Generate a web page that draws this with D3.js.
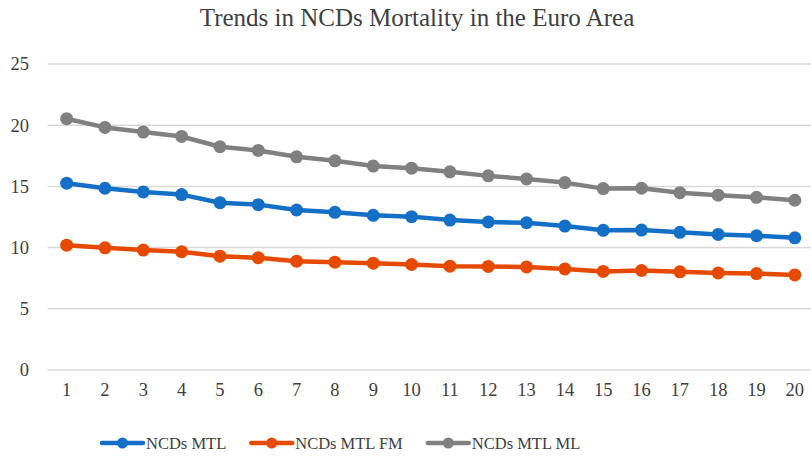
<!DOCTYPE html>
<html>
<head>
<meta charset="utf-8">
<script src="https://cdn.jsdelivr.net/npm/d3@7"></script>
<style>
  body { margin: 0; background: #fff; }
  svg { display: block; }
  svg text { font-family: "Liberation Serif", "DejaVu Serif", serif; }
</style>
</head>
<body>
<div id="chart"></div>
<script>
// Data
const years = d3.range(1, 21);
const ncdsMtl = [15.26, 14.85, 14.55, 14.33, 13.67, 13.51, 13.07, 12.88, 12.64, 12.53,
                 12.25, 12.09, 12.03, 11.76, 11.41, 11.43, 11.25, 11.08, 10.97, 10.80];
const ncdsMtlFm = [10.20, 9.98, 9.80, 9.66, 9.30, 9.17, 8.89, 8.81, 8.73, 8.62,
                   8.48, 8.46, 8.42, 8.26, 8.05, 8.13, 8.02, 7.93, 7.88, 7.77];
const ncdsMtlMl = [20.53, 19.82, 19.44, 19.08, 18.24, 17.94, 17.42, 17.09, 16.66, 16.49,
                   16.19, 15.86, 15.61, 15.31, 14.82, 14.85, 14.49, 14.28, 14.11, 13.87];
const yTicks = [0, 5, 10, 15, 20, 25];
const seriesNames = ['NCDs MTL', 'NCDs MTL FM', 'NCDs MTL ML'];
const seriesColors = ['#1470c6', '#e64a00', '#808080'];
const title = 'Trends in NCDs Mortality in the Euro Area';

const series = [ncdsMtl, ncdsMtlFm, ncdsMtlMl].map((vals, i) => ({
  name: seriesNames[i], color: seriesColors[i], values: vals
}));

const width = 811, height = 456;
const margin = {top: 64, right: -3, bottom: 86, left: 47.5};

const svg = d3.select('#chart').append('svg')
    .attr('width', width)
    .attr('height', height);

// Scales
const x = d3.scaleBand()
    .domain(years)
    .range([margin.left, width - margin.right]);

const y = d3.scaleLinear()
    .domain([0, 25])
    .range([height - margin.bottom, margin.top]);

// Title
svg.append('text')
    .attr('x', 417)
    .attr('y', 26)
    .attr('text-anchor', 'middle')
    .style('font-size', '25px')
    .attr('fill', '#404040')
    .text(title);

// Gridlines
svg.append('g')
    .selectAll('line')
    .data(yTicks)
    .join('line')
    .attr('x1', margin.left)
    .attr('x2', width)
    .attr('y1', d => y(d))
    .attr('y2', d => y(d))
    .attr('stroke', '#d9d9d9')
    .attr('stroke-width', 1.5);

// Y axis labels
const yAxis = d3.axisLeft(y).tickValues(yTicks).tickSize(0).tickPadding(0);
svg.append('g')
    .attr('transform', 'translate(29,0)')
    .call(yAxis)
    .attr('font-family', null)
    .attr('font-size', null)
    .call(g => g.select('.domain').remove())
    .selectAll('text')
    .style('font-size', '18.5px')
    .attr('fill', '#404040');

// X axis labels
const xAxis = d3.axisBottom(x).tickSize(0).tickPadding(0);
svg.append('g')
    .attr('transform', `translate(0,${y(0) + 13})`)
    .call(xAxis)
    .attr('font-family', null)
    .attr('font-size', null)
    .call(g => g.select('.domain').remove())
    .selectAll('text')
    .style('font-size', '18.5px')
    .attr('fill', '#404040');

// Lines and markers
const line = d3.line()
    .x((d, i) => x(years[i]) + x.bandwidth() / 2)
    .y(d => y(d));

const sg = svg.append('g')
    .selectAll('g')
    .data(series)
    .join('g');

sg.append('path')
    .attr('d', d => line(d.values))
    .attr('fill', 'none')
    .attr('stroke', d => d.color)
    .attr('stroke-width', 4.5)
    .attr('stroke-linejoin', 'round');

sg.selectAll('circle')
    .data(d => d.values.map((v, i) => ({v, i, color: d.color})))
    .join('circle')
    .attr('cx', d => x(years[d.i]) + x.bandwidth() / 2)
    .attr('cy', d => y(d.v))
    .attr('r', 6.5)
    .attr('fill', d => d.color);

// Legend
const legend = svg.append('g')
    .attr('transform', 'translate(102,443)');

let lx = 0;
series.forEach(s => {
  const item = legend.append('g').attr('transform', `translate(${lx},0)`);
  item.append('line')
      .attr('x1', 0).attr('x2', 41)
      .attr('stroke', s.color)
      .attr('stroke-width', 4.5)
      .attr('stroke-linecap', 'round');
  item.append('circle')
      .attr('cx', 20.5)
      .attr('r', 5.5)
      .attr('fill', s.color);
  const t = item.append('text')
      .attr('x', 44)
      .attr('dy', '0.35em')
      .style('font-size', '16.5px')
      .attr('fill', '#404040')
      .text(s.name);
  lx += 44 + t.node().getComputedTextLength() + 25;
});
</script>
</body>
</html>
